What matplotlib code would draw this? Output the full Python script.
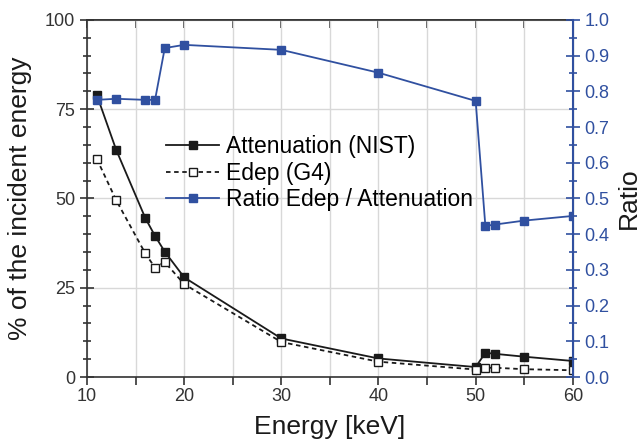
import numpy as np
import matplotlib.pyplot as plt
from matplotlib.ticker import MultipleLocator

plt.rcParams['font.family'] = ['Liberation Sans', 'DejaVu Sans']

# data
energy = [11, 13, 16, 17, 18, 20, 30, 40, 50, 51, 52, 55, 60]
atten_nist = [79.0, 63.6, 44.5, 39.5, 35.1, 27.9, 10.8, 5.2, 2.8, 6.8, 6.5, 5.7, 4.5]
edep_g4 = [61.1, 49.5, 34.6, 30.6, 32.2, 26.0, 9.8, 4.3, 2.1, 2.6, 2.6, 2.2, 1.9]
ratio = [0.776, 0.779, 0.776, 0.776, 0.921, 0.930, 0.916, 0.852, 0.773, 0.423, 0.427, 0.438, 0.451]

blue = '#3050a0'

fig = plt.figure(figsize=(6.4, 4.41), dpi=100)
ax = fig.add_axes([0.136, 0.145, 0.759, 0.81])
ax2 = ax.twinx()

l1, = ax.plot(energy, atten_nist, '-s', color='#1a1a1a', lw=1.3, ms=6.3,
              label='Attenuation (NIST)')
l2, = ax.plot(energy, edep_g4, '--s', color='#1a1a1a', lw=1.3, ms=6.3,
              mfc='white', label='Edep (G4)', dashes=(2.5, 2))
l3, = ax2.plot(energy, ratio, '-s', color=blue, lw=1.3, ms=6.3,
               label='Ratio Edep / Attenuation')

ax.set_xlim(10, 60)
ax.set_ylim(0, 100)
ax2.set_ylim(0, 1.0)

ax.xaxis.set_major_locator(MultipleLocator(10))
ax.xaxis.set_minor_locator(MultipleLocator(5))
ax.yaxis.set_major_locator(MultipleLocator(25))
ax.yaxis.set_minor_locator(MultipleLocator(5))
ax2.yaxis.set_major_locator(MultipleLocator(0.1))
ax2.yaxis.set_minor_locator(MultipleLocator(0.05))
ax2.yaxis.set_major_formatter(plt.FuncFormatter(lambda v, p: f'{v:.1f}'))

ax.grid(True, which='major', axis='y', color='#d8d8d8', lw=1)
ax.grid(True, which='both', axis='x', color='#d8d8d8', lw=1)
ax.set_axisbelow(True)

ax.tick_params(axis='y', which='major', direction='inout', length=10, width=1.2,
               labelsize=13, colors='#333333')
ax.tick_params(axis='y', which='minor', direction='inout', length=6, width=1.2,
               colors='#333333')
ax.tick_params(axis='x', which='major', direction='out', length=6, width=1.2,
               labelsize=13, colors='#333333', pad=2)
ax.tick_params(axis='x', which='minor', direction='out', length=6, width=1.2,
               colors='#333333')
ax2.tick_params(axis='y', which='major', direction='inout', length=10, width=1.2,
                labelsize=13, colors=blue, labelcolor=blue)
ax2.tick_params(axis='y', which='minor', direction='inout', length=6, width=1.2,
                colors=blue)

# inward ticks along the top edge
top = ax.secondary_xaxis('top')
top.xaxis.set_major_locator(MultipleLocator(5))
top.tick_params(direction='in', length=6, width=1.2, colors='#333333',
                labeltop=False)
top.spines['top'].set_linewidth(1.2)
top.spines['top'].set_color('#333333')

for s in ['left', 'bottom', 'top']:
    ax.spines[s].set_linewidth(1.2)
    ax.spines[s].set_color('#333333')
ax2.spines['right'].set_color(blue)
ax2.spines['right'].set_linewidth(1.5)
ax2.spines['left'].set_visible(False)
ax2.spines['top'].set_visible(False)
ax2.spines['bottom'].set_visible(False)

ax.set_xlabel('Energy [keV]', fontsize=19, color='#1a1a1a', labelpad=7)
ax.set_ylabel('% of the incident energy', fontsize=19, color='#1a1a1a', labelpad=9)
ax2.set_ylabel('Ratio', fontsize=19, color='#1a1a1a', labelpad=5)

ax.legend(handles=[l1, l2, l3], loc='upper left', bbox_to_anchor=(0.144, 0.703),
          frameon=False, fontsize=16.5, handlelength=2.3, handletextpad=0.3,
          labelspacing=0.15, borderaxespad=0)

fig.savefig('out.png', dpi=100)
